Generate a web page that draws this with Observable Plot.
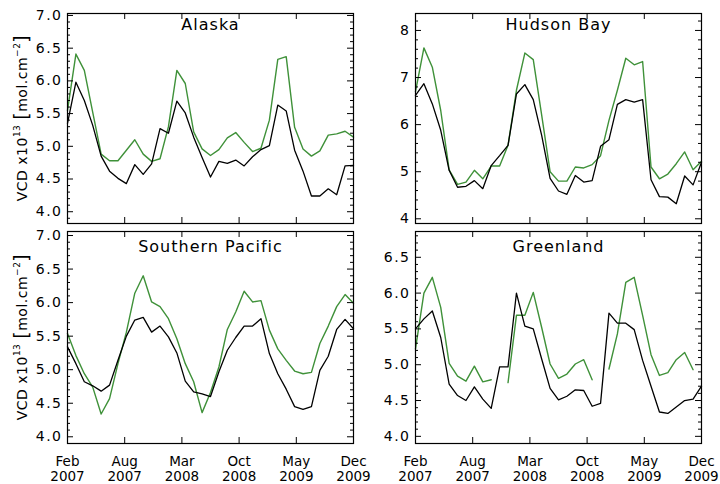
<!DOCTYPE html>
<html>
<head>
<meta charset="utf-8">
<script src="https://cdn.jsdelivr.net/npm/d3@7"></script>
<script src="https://cdn.jsdelivr.net/npm/@observablehq/plot@0.6"></script>
<style>
html, body { margin: 0; padding: 0; background: #fff; }
#chart { position: relative; width: 720px; height: 484px; font-family: "DejaVu Sans", sans-serif; }
.panel { position: absolute; }
</style>
</head>
<body>
<div id="chart"></div>
<script>
// ---- Data (monthly, Feb 2007 .. Dec 2009, 35 months) ----
const regions = ["Alaska", "Hudson Bay", "Southern Pacific", "Greenland"];
const xTickPos = [0, 6.8, 13.6, 20.4, 27.2, 34];
const xTickLabels = ["Feb\n2007", "Aug\n2007", "Mar\n2008", "Oct\n2008", "May\n2009", "Dec\n2009"];

const alaskaBlack = [5.35, 5.98, 5.70, 5.32, 4.85, 4.62, 4.51, 4.43, 4.72, 4.57, 4.73, 5.27, 5.20, 5.69, 5.51, 5.14, 4.83, 4.53, 4.77, 4.74, 4.79, 4.70, 4.84, 4.95, 5.01, 5.63, 5.54, 4.94, 4.62, 4.24, 4.24, 4.35, 4.26, 4.70, 4.71];
const alaskaGreen = [5.55, 6.41, 6.16, 5.52, 4.88, 4.78, 4.78, 4.94, 5.10, 4.88, 4.77, 4.81, 5.30, 6.16, 5.96, 5.22, 4.96, 4.86, 4.95, 5.13, 5.21, 5.06, 4.92, 4.97, 5.40, 6.33, 6.37, 5.29, 4.96, 4.85, 4.93, 5.17, 5.19, 5.23, 5.14];

const hudsonBlack = [6.62, 6.87, 6.44, 5.88, 5.03, 4.67, 4.69, 4.81, 4.64, 5.13, 5.34, 5.56, 6.65, 6.85, 6.53, 5.77, 4.86, 4.59, 4.52, 4.92, 4.78, 4.81, 5.54, 5.68, 6.43, 6.53, 6.48, 6.53, 4.83, 4.47, 4.46, 4.32, 4.91, 4.72, 5.20];
const hudsonGreen = [6.70, 7.63, 7.22, 6.30, 5.04, 4.73, 4.78, 5.03, 4.85, 5.12, 5.12, 5.56, 6.73, 7.52, 7.38, 6.20, 5.00, 4.80, 4.80, 5.10, 5.08, 5.15, 5.34, 6.09, 6.73, 7.41, 7.27, 7.34, 5.10, 4.85, 4.95, 5.17, 5.42, 5.04, 5.22];

const pacificBlack = [5.34, 5.09, 4.82, 4.76, 4.68, 4.77, 5.14, 5.50, 5.74, 5.78, 5.56, 5.65, 5.49, 5.25, 4.83, 4.67, 4.64, 4.60, 4.97, 5.29, 5.48, 5.65, 5.65, 5.76, 5.24, 4.94, 4.71, 4.45, 4.41, 4.45, 4.99, 5.20, 5.60, 5.75, 5.61];
const pacificGreen = [5.54, 5.21, 4.94, 4.74, 4.34, 4.57, 5.09, 5.56, 6.14, 6.40, 6.01, 5.94, 5.76, 5.46, 5.09, 4.82, 4.36, 4.66, 5.04, 5.60, 5.86, 6.17, 6.01, 6.03, 5.59, 5.31, 5.14, 4.98, 4.94, 4.96, 5.39, 5.65, 5.94, 6.12, 5.99];

const greenlandBlack = [5.50, 5.64, 5.75, 5.38, 4.73, 4.57, 4.50, 4.69, 4.52, 4.39, 4.97, 4.97, 6.00, 5.54, 5.50, 5.08, 4.67, 4.51, 4.56, 4.65, 4.64, 4.42, 4.46, 5.72, 5.58, 5.58, 5.49, 5.06, 4.70, 4.34, 4.32, 4.41, 4.50, 4.52, 4.70];
const greenlandGreen = [5.22, 6.00, 6.22, 5.80, 5.02, 4.84, 4.77, 4.98, 4.76, 4.79, null, 4.75, 5.69, 5.69, 6.01, 5.52, 5.01, 4.81, 4.87, 5.01, 5.07, 4.79, null, 4.94, 5.43, 6.15, 6.22, 5.69, 5.14, 4.85, 4.89, 5.07, 5.17, 4.93, null];

const yTicksAlaska = [4.0, 4.5, 5.0, 5.5, 6.0, 6.5, 7.0];
const yTicksHudson = [4, 5, 6, 7, 8];
const yTicksPacific = [4.0, 4.5, 5.0, 5.5, 6.0, 6.5, 7.0];
const yTicksGreenland = [4.0, 4.5, 5.0, 5.5, 6.0, 6.5];

const GREEN = "#3f9139";
const FONT = "DejaVu Sans, sans-serif";

const panels = [
  {title: regions[0], black: alaskaBlack, green: alaskaGreen, domain: [3.82, 7.03], major: yTicksAlaska, step: 0.1, fmt: d => d.toFixed(1),
   left: 0, top: 0, width: 360, height: 232, mL: 67, mR: 7, mT: 13, mB: 9, showX: false, yLabel: true, titleDy: 16.5},
  {title: regions[1], black: hudsonBlack, green: hudsonGreen, domain: [3.90, 8.36], major: yTicksHudson, step: 0.2, fmt: d => String(d),
   left: 360, top: 0, width: 360, height: 232, mL: 55, mR: 19, mT: 13, mB: 9, showX: false, yLabel: false, titleDy: 16.5},
  {title: regions[2], black: pacificBlack, green: pacificGreen, domain: [3.90, 7.06], major: yTicksPacific, step: 0.1, fmt: d => d.toFixed(1),
   left: 0, top: 225, width: 360, height: 259, mL: 67, mR: 7, mT: 6, mB: 41, showX: true, yLabel: true, titleDy: 20.5},
  {title: regions[3], black: greenlandBlack, green: greenlandGreen, domain: [3.90, 6.86], major: yTicksGreenland, step: 0.1, fmt: d => d.toFixed(1),
   left: 360, top: 225, width: 360, height: 259, mL: 55, mR: 19, mT: 6, mB: 41, showX: true, yLabel: false, titleDy: 20.5}
];

const chart = document.getElementById("chart");

for (const p of panels) {
  const rows = p.black.map((v, i) => ({i, black: v, green: p.green[i]}));
  const pw = p.width - p.mL - p.mR;
  const ph = p.height - p.mT - p.mB;
  const lo = Math.ceil(p.domain[0] / p.step - 1e-9), hi = Math.floor(p.domain[1] / p.step + 1e-9);
  const minor = d3.range(lo, hi + 1).map(k => +(k * p.step).toFixed(2))
    .filter(v => !p.major.some(m => Math.abs(m - v) < 1e-6));

  const marks = [
    Plot.line(rows, {x: "i", y: "green", stroke: GREEN, strokeWidth: 1.4}),
    Plot.line(rows, {x: "i", y: "black", stroke: "black", strokeWidth: 1.3}),
    Plot.frame({stroke: "black", strokeWidth: 1.2}),
    Plot.tickY(p.major, {y: d => d, insetRight: pw - 6, stroke: "black"}),
    Plot.tickY(p.major, {y: d => d, insetLeft: pw - 6, stroke: "black"}),
    Plot.tickY(minor, {y: d => d, insetRight: pw - 3, stroke: "black"}),
    Plot.tickY(minor, {y: d => d, insetLeft: pw - 3, stroke: "black"}),
    Plot.tickX(xTickPos, {x: d => d, insetTop: ph - 6, stroke: "black"}),
    Plot.tickX(xTickPos, {x: d => d, insetBottom: ph - 6, stroke: "black"}),
    Plot.axisY(p.major, {anchor: "left", tickSize: 0, tickPadding: 5, tickFormat: p.fmt, fontSize: 14, label: null}),
    Plot.text([p.title], {frameAnchor: "top", lineAnchor: "bottom", dy: p.titleDy, fontSize: 16, fill: "black", text: d => d})
  ];
  if (p.showX) {
    marks.push(Plot.axisX(xTickPos, {anchor: "bottom", tickSize: 0, tickPadding: 11, fontSize: 13.5, lineHeight: 1.15,
      tickFormat: d => xTickLabels[xTickPos.indexOf(d)], label: null}));
  }

  const svg = Plot.plot({
    width: p.width,
    height: p.height,
    marginLeft: p.mL,
    marginRight: p.mR,
    marginTop: p.mT,
    marginBottom: p.mB,
    style: {background: "transparent", overflow: "visible", fontFamily: FONT, fontSize: "14px", color: "black"},
    x: {domain: [0, 34], axis: p.showX ? undefined : null},
    y: {domain: p.domain},
    marks
  });

  // wider letter spacing like the original plotting font
  d3.select(svg).selectAll("text").each(function () {
    const s = this.textContent;
    if (s === p.title) this.setAttribute("letter-spacing", "1");
    else if (p.major.some(m => p.fmt(m) === s)) this.setAttribute("letter-spacing", "1.5");
  });

  if (p.yLabel) {
    const cy = p.mT + ph / 2;
    const t = d3.select(svg).append("text")
      .attr("transform", `translate(27,${cy}) rotate(-90)`)
      .attr("text-anchor", "middle")
      .attr("font-family", FONT)
      .attr("font-size", 14)
      .attr("letter-spacing", "0.5")
      .attr("fill", "black");
    t.append("tspan").text("VCD x10");
    t.append("tspan").attr("font-size", 9).attr("dy", -7).text("13");
    t.append("tspan").attr("dy", 7).text(" ");
    t.append("tspan").attr("font-size", 19).attr("dy", 1).text("[");
    t.append("tspan").attr("dy", -1).text("mol.cm");
    t.append("tspan").attr("font-size", 9).attr("dy", -7).text("−2");
    t.append("tspan").attr("font-size", 19).attr("dy", 8).text("]");
  }

  const div = document.createElement("div");
  div.className = "panel";
  div.style.left = p.left + "px";
  div.style.top = p.top + "px";
  div.style.width = p.width + "px";
  div.style.height = p.height + "px";
  div.appendChild(svg);
  chart.appendChild(div);
}
</script>
</body>
</html>
